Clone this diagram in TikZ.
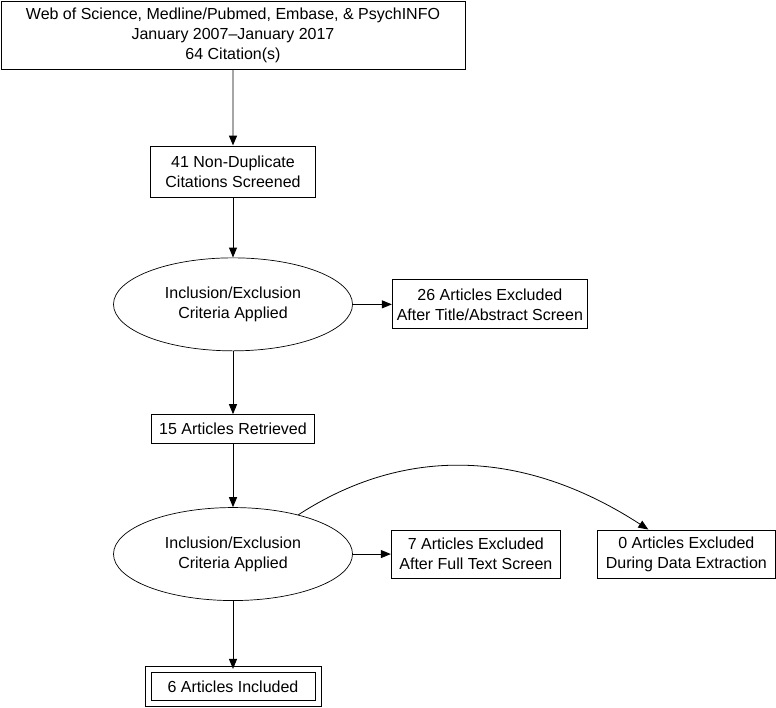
\documentclass[tikz,border=0pt]{standalone}
\usepackage{fontspec}
\setmainfont{Liberation Sans}
\usepackage{tikz}
\usetikzlibrary{positioning}
\usetikzlibrary{shapes.geometric}
\usetikzlibrary{arrows.meta}
\tikzstyle{box}=[draw=black, line width=1pt, inner sep=2pt, align=center]
\tikzstyle{crit}=[ellipse, draw=black, line width=0.7pt, minimum width=239pt, minimum height=93pt, align=center]
\tikzstyle{final}=[box, double, double distance=5pt, minimum width=170pt, minimum height=34pt]
\tikzstyle{link}=[-{Triangle[length=10pt, width=8pt]}, draw=black, line width=1pt]
\tikzstyle{feed}=[-{Triangle[length=10pt, width=8pt, color=black]}, draw=black!35, line width=1.6pt]

\begin{document}
\begin{tikzpicture}[x=1pt, y=1pt, font=\fontsize{16}{20}\selectfont]
    \useasboundingbox (0,0) rectangle (776,-707);

    \node[box, minimum width=464pt, minimum height=68pt] (search) at (233,-35)
        {Web of Science, Medline/Pubmed, Embase, \& PsychINFO\\January 2007--January 2017\\64 Citation(s)};
    \node[box, minimum width=165pt, minimum height=51pt] (screened) [below=76pt of search]
        {41 Non-Duplicate\\Citations Screened};
    \node[crit]  (crit1) [below=60pt of screened] {Inclusion/Exclusion\\Criteria Applied};
    \node[box, minimum width=195pt, minimum height=49pt] (title) [right=39pt of crit1]
        {26 Articles Excluded\\After Title/Abstract Screen};
    \node[box, minimum width=163pt, minimum height=29pt] (retrieved) [below=63pt of crit1]
        {15 Articles Retrieved};
    \node[crit]  (crit2) [below=63pt of retrieved] {Inclusion/Exclusion\\Criteria Applied};
    \node[box, minimum width=169pt, minimum height=48pt] (fulltext) [right=38pt of crit2]
        {7 Articles Excluded\\After Full Text Screen};
    \node[box, minimum width=178pt, minimum height=48pt] (extraction) [right=36pt of fulltext]
        {0 Articles Excluded\\During Data Extraction};
    \node[final] (included) [below=68pt of crit2] {6 Articles Included};

    \draw[feed] (search) -- (screened);
    \draw[link] (screened) -- (crit1);
    \draw[link] (crit1) -- (title);
    \draw[link] (crit1) -- (retrieved);
    \draw[link] (retrieved) -- (crit2);
    \draw[link] (crit2) -- (fulltext);
    \draw[link, line width=0.8pt] (crit2.31) to[out=33, in=147] ([xshift=-38pt]extraction.north);
    \draw[link] (crit2) -- (included);
\end{tikzpicture}
\end{document}
